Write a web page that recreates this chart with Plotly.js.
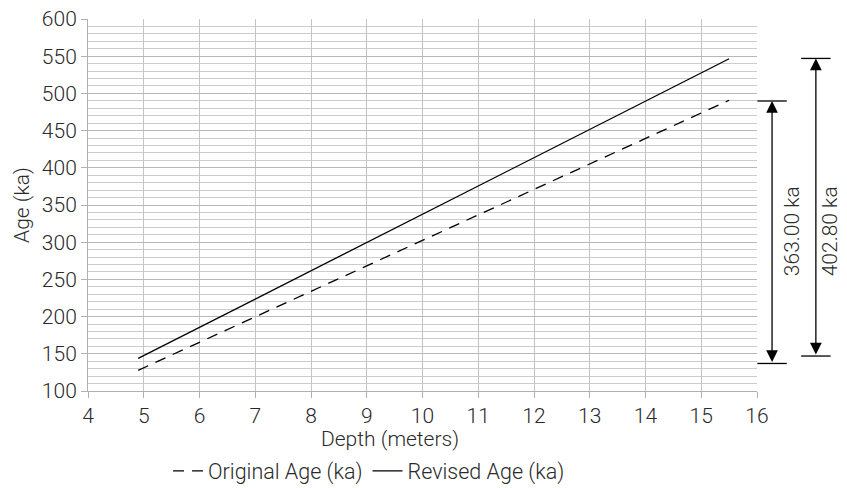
<!DOCTYPE html>
<html>
<head>
<meta charset="utf-8">
<script src="https://cdn.plot.ly/plotly-3.0.1.min.js"></script>
<style>html,body{margin:0;padding:0;background:#fff;}#chart{width:847px;height:488px;}</style>
</head>
<body>
<div id="chart"></div>
<script>
// Data
var depth = [4.9, 15.5];
var originalAge = [127.8, 490.8];
var revisedAge = [143.8, 546.6];
var seriesNames = ["Original Age (ka)", "Revised Age (ka)"];
var xTicks = [4, 5, 6, 7, 8, 9, 10, 11, 12, 13, 14, 15, 16];
var yTicks = [100, 150, 200, 250, 300, 350, 400, 450, 500, 550, 600];
var xTitle = "Depth (meters)";
var yTitle = "Age (ka)";
// Range indicator arrows (label, top value, bottom value)
var rangeLabels = ["363.00 ka", "402.80 ka"];
var rangeTop = [489.8, 547];
var rangeBottom = [137, 147];
var rangeLabelCenter = [315, 315];

var fontFam = "Roboto, 'Open Sans', sans-serif";
var txtColor = "#2a2a2a";
function f(sz) { return {family: fontFam, size: sz, color: txtColor, weight: 300}; }

var traces = [
  {x: depth, y: originalAge, name: seriesNames[0], mode: "lines",
   line: {color: "#000", width: 1.3, dash: "11px,8px"}},
  {x: depth, y: revisedAge, name: seriesNames[1], mode: "lines",
   line: {color: "#000", width: 1.3}}
];

var arrowX = [1.0225, 1.088];
var labelX = [1.0525, 1.1095];
var barHalf = 0.022;
var shapes = [], annotations = [];
for (var i = 0; i < rangeLabels.length; i++) {
  [rangeTop[i], rangeBottom[i]].forEach(function (v) {
    shapes.push({type: "line", xref: "paper", yref: "y", x0: arrowX[i] - barHalf, x1: arrowX[i] + barHalf,
      y0: v, y1: v, line: {color: "#000", width: 1.3}});
  });
  annotations.push({xref: "paper", yref: "y", x: arrowX[i], y: rangeTop[i], axref: "pixel", ayref: "y",
    ax: 0, ay: rangeBottom[i], showarrow: true, arrowhead: 2, startarrowhead: 2, arrowside: "end+start",
    arrowsize: 1.8, startarrowsize: 1.8, arrowwidth: 1.3, arrowcolor: "#000", text: ""});
  annotations.push({xref: "paper", yref: "y", x: labelX[i], y: rangeLabelCenter[i],
    text: rangeLabels[i], showarrow: false, textangle: -90, xanchor: "center", yanchor: "middle",
    font: f(21)});
}
// x-axis title (offset left of plot centre as in the reference)
annotations.push({xref: "paper", yref: "paper", x: 0.4514, y: -0.129, xanchor: "center", yanchor: "middle",
  text: xTitle, showarrow: false, font: f(21)});

var layout = {
  width: 847, height: 488,
  margin: {l: 88, r: 90, t: 19, b: 97, autoexpand: false},
  paper_bgcolor: "#fff", plot_bgcolor: "#fff",
  font: f(21),
  showlegend: true,
  legend: {orientation: "h", x: 0.4357, xanchor: "center", xref: "container", yref: "container",
    y: 0.035, yanchor: "middle", font: f(21.5), tracegroupgap: 0},
  xaxis: {range: [4, 16], tickvals: xTicks, ticktext: xTicks.map(String),
    showgrid: true, gridcolor: "#c4c4c4", gridwidth: 1, automargin: false,
    showline: true, linecolor: "#b0b0b0", linewidth: 1,
    ticks: "outside", ticklen: 6, tickcolor: "#b0b0b0", zeroline: false},
  yaxis: {range: [100, 600], tickvals: yTicks, ticktext: yTicks.map(String),
    showgrid: true, gridcolor: "#b8b8b8", gridwidth: 1, automargin: false,
    minor: {dtick: 10, showgrid: true, gridcolor: "#cccccc", gridwidth: 1, ticks: ""},
    showline: true, linecolor: "#b0b0b0", linewidth: 1,
    ticks: "outside", ticklen: 6, tickcolor: "#b0b0b0", zeroline: false,
    title: {text: yTitle, font: f(21), standoff: 6}},
  shapes: shapes,
  annotations: annotations
};

Plotly.newPlot("chart", traces, layout, {displayModeBar: false, staticPlot: true});
</script>
</body>
</html>
